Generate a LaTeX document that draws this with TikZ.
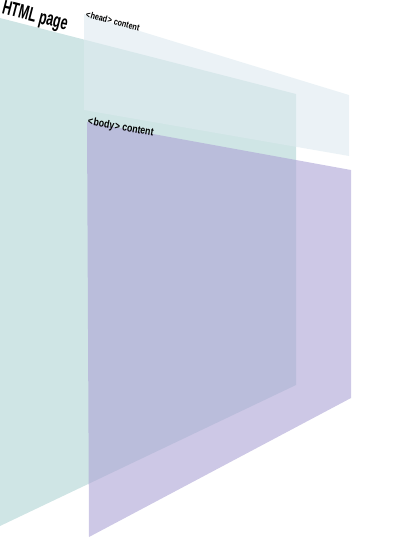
\documentclass[tikz,border=0pt]{standalone}
\usepackage{fontspec}
\newfontfamily\condfont[FakeStretch=0.62]{Liberation Sans Bold}
\newfontfamily\smallcondfont[FakeStretch=0.80]{Liberation Sans Bold}
\definecolor{pagegreen}{RGB}{207,229,229}
\definecolor{headblue}{RGB}{222,234,240}
\definecolor{bodypurple}{RGB}{172,163,213}
\begin{document}
\begin{tikzpicture}[x=0.75pt,y=-0.75pt,
  pagelabel/.style={inner sep=0pt,anchor=base west}]
\useasboundingbox (0,0) rectangle (400,553);
% HTML page
\fill[pagegreen] (0,18) -- (296,94) -- (296,385) -- (0,526) -- cycle;
% head
\fill[headblue,opacity=0.6] (84,14) -- (349,95) -- (349,156) -- (84,110) -- cycle;
% body
\fill[bodypurple,opacity=0.6] (87,122) -- (351,170) -- (351,398) -- (89,537) -- cycle;
% labels
\node[pagelabel,rotate=-14.5,font=\condfont\fontsize{15}{16}\selectfont] (html) at (1,13.5) {HTML page};
\node[pagelabel,rotate=-15,font=\smallcondfont\fontsize{6.8}{8}\selectfont] (head) at (85,17) {<\kern0.6pt head\kern0.6pt> content};
\node[pagelabel,rotate=-10.5,font=\smallcondfont\fontsize{8.2}{9}\selectfont] (body) at (87,124) {<\kern0.6pt body\kern0.6pt> content};
\end{tikzpicture}
\end{document}
